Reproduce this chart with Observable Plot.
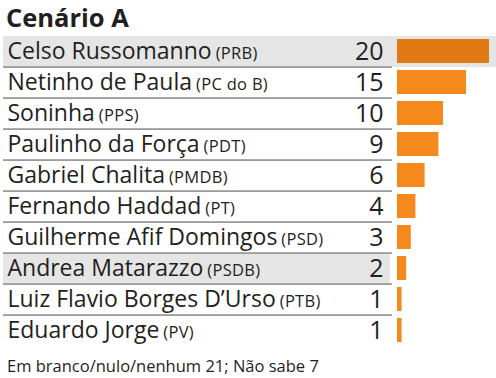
<!DOCTYPE html>
<html><head><meta charset="utf-8">
<script src="https://cdn.jsdelivr.net/npm/d3@7"></script>
<script src="https://cdn.jsdelivr.net/npm/@observablehq/plot@0.6"></script>
<style>
body{margin:0;background:#fff;font-family:"Open Sans",sans-serif;color:#231f20;width:496px;}
#title{font-weight:700;font-size:25.5px;height:35px;line-height:25px;padding-top:5px;padding-left:6px;box-sizing:border-box;}
#note{font-size:16.5px;padding-left:7px;line-height:16.5px;padding-top:11px;}
#chart svg{display:block;}
</style></head><body>
<div id="title">Cenário A</div>
<div id="chart"></div>
<div id="note">Em branco/nulo/nenhum 21; Não sabe 7</div>
<script>
const names = ["Celso Russomanno","Netinho de Paula","Soninha","Paulinho da Força","Gabriel Chalita","Fernando Haddad","Guilherme Afif Domingos","Andrea Matarazzo","Luiz Flavio Borges D’Urso","Eduardo Jorge"];
const parties = ["(PRB)","(PC do B)","(PPS)","(PDT)","(PMDB)","(PT)","(PSD)","(PSDB)","(PTB)","(PV)"];
const values = [20,15,10,9,6,4,3,2,1,1];
const leader = "Celso Russomanno";
const shaded = "Andrea Matarazzo";

const data = names.map((n,i)=>({name:n, party:parties[i], value:values[i]}));
const rowH = 31.2;
const plot = Plot.plot({
  width:496, height:312,
  marginTop:0, marginBottom:0, marginLeft:0, marginRight:7,
  style:{fontFamily:"Open Sans", background:"#fff"},
  x:{domain:[0,20], range:[397,489], axis:null},
  y:{domain:names, axis:null, padding:0},
  color:{type:"identity"},
  marks:[
    Plot.cell(data.filter(d=>d.name===leader), {y:"name", fill:"#e5e5e5", insetLeft:3, insetRight:-7}),
    Plot.cell(data.filter(d=>d.name===shaded), {y:"name", fill:"#e5e5e5", insetLeft:3, insetRight:99}),
    Plot.cell(data.slice(0,9), {y:"name", fill:"#9b9b9b", insetTop:rowH-1, insetBottom:-1, insetLeft:3, insetRight:97}),
    Plot.barX(data, {x:"value", y:"name", fill:d=>d.name===leader?"#e07a13":"#f5891b", insetTop:3, insetBottom:4}),
    Plot.text(data, {y:"name", text:"name", frameAnchor:"left", dx:7, textAnchor:"start", fontSize:23, fill:"#231f20"}),
    Plot.text(data, {y:"name", text:d=>String(d.value), frameAnchor:"right", dx:-106, textAnchor:"end", fontSize:25, fill:"#231f20"})
  ]
});
const partyOf = new Map(data.map(d=>[d.name,d.party]));
d3.select(plot).selectAll('text').each(function(){
  const n = this.textContent;
  if (!partyOf.has(n)) return;
  d3.select(this).append("tspan").attr("dx",4).attr("font-size",16.5).attr("letter-spacing","0.3").text(partyOf.get(n));
});
document.getElementById("chart").appendChild(plot);
</script>
</body></html>
